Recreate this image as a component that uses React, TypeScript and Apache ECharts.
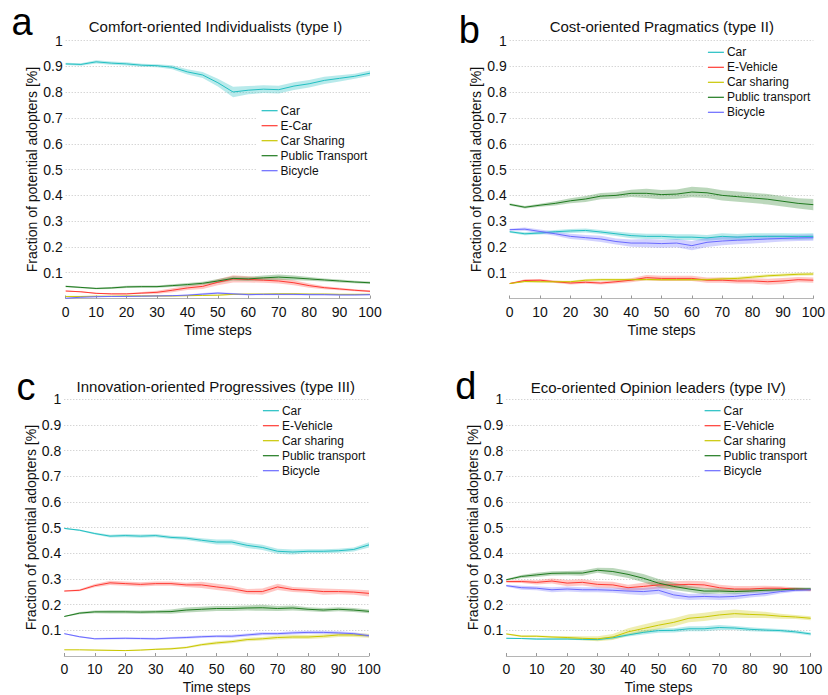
import React, { useEffect, useRef } from "react";
import * as echarts from "echarts";

// Time steps
const steps = [0, 5, 10, 15, 20, 25, 30, 35, 40, 45, 50, 55, 60, 65, 70, 75, 80, 85, 90, 95, 100];

const panelLetters = ["a", "b", "c", "d"];
const panelTitles = [
  "Comfort-oriented Individualists (type I)",
  "Cost-oriented Pragmatics (type II)",
  "Innovation-oriented Progressives (type III)",
  "Eco-oriented Opinion leaders (type IV)",
];
const namesA = ["Car", "E-Car", "Car Sharing", "Public Transport", "Bicycle"];
const namesBCD = ["Car", "E-Vehicle", "Car sharing", "Public transport", "Bicycle"];
const xAxisName = "Time steps";
const yAxisName = "Fraction of potential adopters [%]";

// ---- Panel a: mean values and band half-widths ----
const carA = [0.910, 0.908, 0.918, 0.913, 0.910, 0.905, 0.903, 0.897, 0.879, 0.867, 0.837, 0.801, 0.808, 0.812, 0.810, 0.824, 0.833, 0.846, 0.854, 0.862, 0.874];
const carABand = [0.004, 0.005, 0.006, 0.006, 0.006, 0.006, 0.006, 0.008, 0.010, 0.012, 0.015, 0.020, 0.016, 0.015, 0.015, 0.015, 0.015, 0.014, 0.012, 0.010, 0.010];
const evA = [0.029, 0.026, 0.020, 0.018, 0.018, 0.021, 0.024, 0.032, 0.041, 0.047, 0.063, 0.076, 0.074, 0.071, 0.068, 0.061, 0.050, 0.042, 0.037, 0.032, 0.028];
const evABand = [0.002, 0.002, 0.002, 0.002, 0.002, 0.004, 0.006, 0.008, 0.008, 0.010, 0.012, 0.014, 0.012, 0.010, 0.010, 0.010, 0.008, 0.006, 0.005, 0.004, 0.004];
const csA = [0.008, 0.008, 0.009, 0.009, 0.010, 0.010, 0.010, 0.010, 0.011, 0.012, 0.013, 0.016, 0.017, 0.017, 0.018, 0.018, 0.017, 0.017, 0.016, 0.016, 0.016];
const csABand = [0.001, 0.001, 0.001, 0.001, 0.001, 0.002, 0.002, 0.002, 0.002, 0.002, 0.002, 0.002, 0.002, 0.002, 0.002, 0.002, 0.002, 0.002, 0.002, 0.002, 0.002];
const ptA = [0.047, 0.043, 0.039, 0.041, 0.045, 0.046, 0.046, 0.050, 0.054, 0.059, 0.068, 0.078, 0.076, 0.080, 0.083, 0.080, 0.076, 0.072, 0.068, 0.064, 0.061];
const ptABand = [0.003, 0.003, 0.003, 0.004, 0.004, 0.004, 0.004, 0.005, 0.006, 0.006, 0.008, 0.008, 0.008, 0.009, 0.010, 0.009, 0.007, 0.006, 0.006, 0.005, 0.005];
const bikeA = [0.001, 0.005, 0.007, 0.008, 0.008, 0.009, 0.010, 0.011, 0.013, 0.017, 0.021, 0.018, 0.015, 0.016, 0.016, 0.016, 0.015, 0.015, 0.014, 0.014, 0.015];
const bikeABand = [0.001, 0.002, 0.002, 0.002, 0.002, 0.002, 0.002, 0.002, 0.003, 0.004, 0.004, 0.003, 0.003, 0.003, 0.003, 0.003, 0.003, 0.003, 0.003, 0.003, 0.003];

// ---- Panel b ----
const carB = [0.259, 0.251, 0.254, 0.259, 0.262, 0.264, 0.258, 0.251, 0.244, 0.241, 0.241, 0.238, 0.238, 0.235, 0.241, 0.238, 0.241, 0.241, 0.241, 0.240, 0.241];
const carBBand = [0.004, 0.006, 0.006, 0.007, 0.008, 0.008, 0.008, 0.009, 0.010, 0.010, 0.010, 0.011, 0.011, 0.011, 0.012, 0.012, 0.012, 0.012, 0.012, 0.012, 0.012];
const evB = [0.058, 0.070, 0.071, 0.065, 0.060, 0.063, 0.060, 0.065, 0.071, 0.081, 0.078, 0.078, 0.078, 0.071, 0.071, 0.068, 0.068, 0.065, 0.068, 0.073, 0.071];
const evBBand = [0.002, 0.005, 0.005, 0.005, 0.006, 0.006, 0.006, 0.007, 0.008, 0.010, 0.010, 0.010, 0.010, 0.010, 0.010, 0.010, 0.010, 0.012, 0.012, 0.010, 0.010];
const csB = [0.058, 0.066, 0.065, 0.065, 0.065, 0.071, 0.073, 0.073, 0.073, 0.074, 0.073, 0.073, 0.073, 0.073, 0.076, 0.078, 0.083, 0.088, 0.091, 0.094, 0.095];
const csBBand = [0.002, 0.004, 0.004, 0.004, 0.004, 0.005, 0.005, 0.005, 0.005, 0.005, 0.005, 0.005, 0.005, 0.005, 0.005, 0.006, 0.006, 0.006, 0.006, 0.006, 0.006];
const ptB = [0.365, 0.354, 0.362, 0.369, 0.379, 0.386, 0.397, 0.400, 0.408, 0.408, 0.403, 0.405, 0.413, 0.410, 0.400, 0.395, 0.390, 0.385, 0.377, 0.369, 0.364];
const ptBBand = [0.004, 0.005, 0.006, 0.008, 0.010, 0.012, 0.012, 0.012, 0.014, 0.018, 0.018, 0.018, 0.020, 0.020, 0.020, 0.020, 0.020, 0.020, 0.020, 0.020, 0.022];
const bikeB = [0.267, 0.269, 0.260, 0.251, 0.241, 0.236, 0.231, 0.221, 0.215, 0.215, 0.213, 0.215, 0.205, 0.218, 0.223, 0.226, 0.228, 0.231, 0.233, 0.235, 0.236];
const bikeBBand = [0.004, 0.006, 0.008, 0.008, 0.010, 0.010, 0.012, 0.012, 0.014, 0.016, 0.016, 0.016, 0.018, 0.018, 0.016, 0.016, 0.015, 0.014, 0.012, 0.012, 0.012];

// ---- Panel c ----
const carC = [0.497, 0.490, 0.477, 0.467, 0.469, 0.467, 0.469, 0.462, 0.459, 0.451, 0.444, 0.444, 0.431, 0.423, 0.408, 0.405, 0.408, 0.408, 0.410, 0.415, 0.433];
const carCBand = [0.002, 0.003, 0.004, 0.005, 0.006, 0.006, 0.006, 0.006, 0.007, 0.008, 0.010, 0.010, 0.010, 0.010, 0.010, 0.010, 0.008, 0.008, 0.008, 0.008, 0.010];
const evC = [0.253, 0.256, 0.274, 0.285, 0.282, 0.279, 0.282, 0.282, 0.277, 0.277, 0.269, 0.262, 0.251, 0.251, 0.269, 0.259, 0.256, 0.251, 0.251, 0.249, 0.244];
const evCBand = [0.002, 0.004, 0.006, 0.008, 0.008, 0.008, 0.008, 0.008, 0.008, 0.012, 0.012, 0.012, 0.010, 0.012, 0.012, 0.010, 0.010, 0.012, 0.010, 0.010, 0.012];
const csC = [0.024, 0.024, 0.023, 0.022, 0.021, 0.023, 0.026, 0.028, 0.033, 0.044, 0.051, 0.056, 0.064, 0.067, 0.072, 0.074, 0.074, 0.077, 0.082, 0.082, 0.079];
const csCBand = [0.001, 0.001, 0.002, 0.002, 0.002, 0.002, 0.003, 0.004, 0.004, 0.005, 0.006, 0.006, 0.007, 0.007, 0.008, 0.008, 0.008, 0.008, 0.008, 0.008, 0.008];
const ptC = [0.154, 0.167, 0.172, 0.172, 0.172, 0.171, 0.172, 0.173, 0.179, 0.182, 0.185, 0.185, 0.187, 0.188, 0.185, 0.187, 0.182, 0.179, 0.182, 0.179, 0.174];
const ptCBand = [0.002, 0.004, 0.005, 0.006, 0.006, 0.006, 0.006, 0.008, 0.010, 0.010, 0.010, 0.010, 0.010, 0.012, 0.010, 0.010, 0.008, 0.008, 0.008, 0.008, 0.007];
const bikeC = [0.087, 0.075, 0.067, 0.068, 0.069, 0.068, 0.067, 0.070, 0.072, 0.075, 0.077, 0.077, 0.082, 0.087, 0.087, 0.090, 0.092, 0.092, 0.090, 0.087, 0.079];
const bikeCBand = [0.002, 0.003, 0.003, 0.004, 0.004, 0.004, 0.004, 0.004, 0.005, 0.005, 0.005, 0.006, 0.006, 0.006, 0.006, 0.006, 0.006, 0.006, 0.006, 0.006, 0.006];

// ---- Panel d ----
const carD = [0.069, 0.068, 0.066, 0.066, 0.066, 0.065, 0.064, 0.071, 0.082, 0.092, 0.099, 0.100, 0.106, 0.106, 0.111, 0.109, 0.104, 0.101, 0.099, 0.094, 0.086];
const carDBand = [0.002, 0.002, 0.003, 0.003, 0.003, 0.004, 0.004, 0.006, 0.006, 0.008, 0.008, 0.008, 0.010, 0.010, 0.010, 0.008, 0.008, 0.007, 0.006, 0.006, 0.006];
const evD = [0.290, 0.290, 0.287, 0.292, 0.284, 0.287, 0.279, 0.277, 0.266, 0.271, 0.277, 0.277, 0.279, 0.277, 0.266, 0.261, 0.261, 0.264, 0.264, 0.261, 0.258];
const evDBand = [0.004, 0.006, 0.008, 0.010, 0.012, 0.012, 0.012, 0.012, 0.012, 0.014, 0.014, 0.014, 0.014, 0.014, 0.012, 0.012, 0.012, 0.010, 0.008, 0.006, 0.006];
const csD = [0.086, 0.077, 0.077, 0.074, 0.072, 0.069, 0.067, 0.074, 0.094, 0.107, 0.120, 0.131, 0.147, 0.152, 0.160, 0.165, 0.162, 0.160, 0.155, 0.152, 0.147];
const csDBand = [0.003, 0.004, 0.004, 0.004, 0.006, 0.008, 0.010, 0.012, 0.014, 0.016, 0.016, 0.016, 0.016, 0.016, 0.016, 0.016, 0.014, 0.012, 0.010, 0.008, 0.008];
const ptD = [0.297, 0.310, 0.316, 0.322, 0.323, 0.323, 0.334, 0.329, 0.318, 0.303, 0.284, 0.271, 0.261, 0.253, 0.253, 0.251, 0.253, 0.256, 0.258, 0.261, 0.261];
const ptDBand = [0.003, 0.006, 0.008, 0.008, 0.008, 0.010, 0.010, 0.014, 0.014, 0.016, 0.016, 0.014, 0.012, 0.012, 0.010, 0.010, 0.008, 0.008, 0.006, 0.006, 0.006];
const bikeD = [0.274, 0.266, 0.264, 0.258, 0.261, 0.258, 0.258, 0.256, 0.253, 0.251, 0.256, 0.238, 0.230, 0.232, 0.230, 0.232, 0.238, 0.243, 0.251, 0.256, 0.258];
const bikeDBand = [0.004, 0.008, 0.008, 0.010, 0.010, 0.010, 0.010, 0.010, 0.012, 0.014, 0.014, 0.014, 0.012, 0.012, 0.012, 0.012, 0.010, 0.010, 0.008, 0.006, 0.006];

const panelValues = [
  [carA, evA, csA, ptA, bikeA],
  [carB, evB, csB, ptB, bikeB],
  [carC, evC, csC, ptC, bikeC],
  [carD, evD, csD, ptD, bikeD],
];
const panelBands = [
  [carABand, evABand, csABand, ptABand, bikeABand],
  [carBBand, evBBand, csBBand, ptBBand, bikeBBand],
  [carCBand, evCBand, csCBand, ptCBand, bikeCBand],
  [carDBand, evDBand, csDBand, ptDBand, bikeDBand],
];

// styling
const lineColors = ["#22bfc2", "#ff3a33", "#c9c700", "#1f7a1f", "#6a6aff"];
const bandColors = [
  "rgba(34,191,194,0.32)",
  "rgba(255,70,60,0.30)",
  "rgba(201,199,0,0.30)",
  "rgba(31,122,31,0.30)",
  "rgba(106,106,255,0.30)",
];
const grids = [
  { left: 65.7, top: 40.7, width: 304.3, height: 257.8 },
  { left: 509.7, top: 40.7, width: 305, height: 257.8 },
  { left: 64.3, top: 399.3, width: 304.7, height: 259.3 },
  { left: 506.3, top: 399.3, width: 304.4, height: 259.3 },
];
const titlePos = [
  [215.5, 26.5],
  [661.8, 26.5],
  [215.8, 386.4],
  [658.3, 387.4],
];
const letterPos = [
  [22, 22],
  [469.4, 30],
  [26, 387],
  [465.7, 386],
];
const legendPos = [
  [257, 102.7],
  [703.3, 44.3],
  [258.3, 402.7],
  [700, 402.7],
];

const FONT = "'Liberation Sans', Arial, Helvetica, sans-serif";

export default function App() {
  const ref = useRef<HTMLDivElement>(null);
  useEffect(() => {
    if (!ref.current) return;
    const chart = echarts.init(ref.current, null, { renderer: "svg" });

    const series: any[] = [];
    panelValues.forEach((vals, p) => {
      const names = p === 0 ? namesA : namesBCD;
      vals.forEach((v, s) => {
        const band = panelBands[p][s];
        series.push({
          type: "custom",
          name: `band-${panelLetters[p]}-${s}`,
          xAxisIndex: p,
          yAxisIndex: p,
          silent: true,
          z: 1,
          data: [[0, 0]],
          renderItem: (params: any, api: any) => {
            const up = steps.map((t, k) => api.coord([t, Math.min(1, v[k] + band[k])]));
            const lo = steps
              .map((t, k) => api.coord([t, Math.max(0, v[k] - band[k])]))
              .reverse();
            return {
              type: "polygon",
              shape: { points: up.concat(lo) },
              style: { fill: bandColors[s], stroke: "none" },
              silent: true,
            };
          },
        });
      });
      vals.forEach((v, s) => {
        series.push({
          type: "line",
          name: names[s],
          xAxisIndex: p,
          yAxisIndex: p,
          symbol: "none",
          showSymbol: false,
          z: 3,
          color: lineColors[s],
          lineStyle: { width: 1, color: lineColors[s] },
          data: steps.map((t, k) => [t, v[k]]),
        });
      });
    });

    const graphic: any[] = [];
    panelTitles.forEach((t, p) => {
      graphic.push({
        type: "text",
        x: titlePos[p][0],
        y: titlePos[p][1],
        style: {
          text: t,
          fontSize: 15,
          fontFamily: FONT,
          fill: "#111",
          align: "center",
          verticalAlign: "middle",
          textAlign: "center",
          textVerticalAlign: "middle",
        },
      });
      graphic.push({
        type: "text",
        x: letterPos[p][0],
        y: letterPos[p][1],
        style: {
          text: panelLetters[p],
          fontSize: 38,
          fontFamily: FONT,
          fill: "#000",
          align: "center",
          verticalAlign: "middle",
          textAlign: "center",
          textVerticalAlign: "middle",
        },
      });
    });

    const option: any = {
      animation: false,
      backgroundColor: "#fff",
      textStyle: { fontFamily: FONT },
      grid: grids.map((g) => ({ ...g, containLabel: false })),
      xAxis: grids.map((_, p) => ({
        type: "value",
        gridIndex: p,
        min: 0,
        max: 100,
        interval: 10,
        name: xAxisName,
        nameLocation: "middle",
        nameGap: 24,
        nameTextStyle: { fontSize: 14, color: "#111", fontFamily: FONT },
        axisLine: { show: true, lineStyle: { color: "#b5b5b5", width: 1 } },
        axisTick: { show: true, inside: true, length: 3, lineStyle: { color: "#999" } },
        axisLabel: { fontSize: 14, color: "#111", margin: 6, fontFamily: FONT },
        splitLine: { show: false },
      })),
      yAxis: grids.map((_, p) => ({
        type: "value",
        gridIndex: p,
        min: 0,
        max: 1,
        interval: 0.1,
        name: yAxisName,
        nameLocation: "middle",
        nameGap: 24,
        nameTextStyle: { fontSize: 14, color: "#111", fontFamily: FONT },
        axisLine: { show: false },
        axisTick: { show: false },
        axisLabel: {
          fontSize: 14,
          color: "#111",
          margin: 3,
          fontFamily: FONT,
          formatter: (v: number) => (v === 0 ? "" : String(+v.toFixed(1))),
        },
        splitLine: { show: true, lineStyle: { color: "#c4c4c4", type: [1, 2], width: 1 } },
      })),
      legend: grids.map((_, p) => ({
        orient: "vertical",
        left: legendPos[p][0],
        top: legendPos[p][1],
        padding: [2, 4, 2, 4],
        itemWidth: 16,
        itemHeight: 14,
        itemGap: 3,
        backgroundColor: "#fff",
        borderWidth: 0,
        selectedMode: false,
        z: 10,
        itemStyle: { opacity: 0 },
        lineStyle: { width: 1.2 },
        textStyle: { fontSize: 12, color: "#111", fontFamily: FONT, padding: [0, 0, 0, -2] },
        data: (p === 0 ? namesA : namesBCD).map((n) => ({ name: n })),
      })),
      graphic,
      series,
    };
    chart.setOption(option);
    return () => chart.dispose();
  }, []);
  return (
    <div
      ref={ref}
      style={{ position: "absolute", left: 0, top: 0, width: 828, height: 695 }}
    />
  );
}
